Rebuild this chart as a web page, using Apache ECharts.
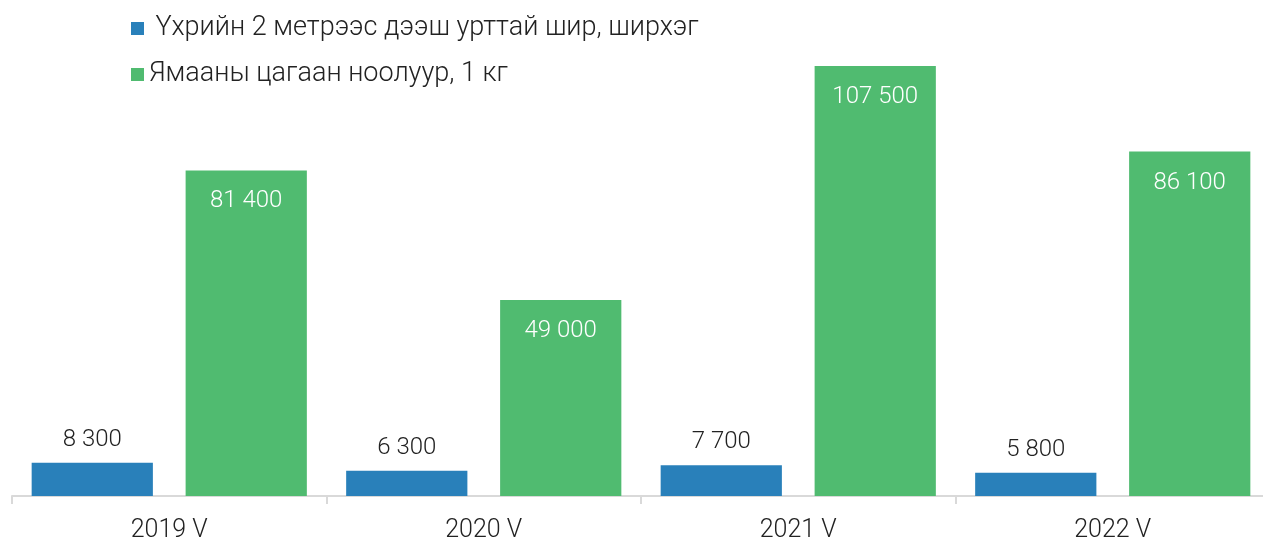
<!DOCTYPE html>
<html><head><meta charset="utf-8">
<script src="https://cdn.jsdelivr.net/npm/echarts@6/dist/echarts.min.js"></script>
<style>html,body{margin:0;padding:0;background:#fff;overflow:hidden;}#c{width:1270px;height:543px;}</style>
</head><body><div id="c"></div>
<script>
const categories = ['2019 V', '2020 V', '2021 V', '2022 V'];
const seriesNames = [' Үхрийн 2 метрээс дээш урттай шир, ширхэг', 'Ямааны цагаан ноолуур, 1 кг'];
const hides = [8300, 6300, 7700, 5800];
const cashmere = [81400, 49000, 107500, 86100];

const fmt = v => String(v).replace(/\B(?=(\d{3})+(?!\d))/g, ' ');
const FONT = 'Roboto';
const chart = echarts.init(document.getElementById('c'));
chart.setOption({
  animation: false,
  textStyle: { fontFamily: FONT },
  legend: {
    orient: 'vertical', left: 126, top: 10, itemGap: 19,
    itemWidth: 13, itemHeight: 13, icon: 'rect',
    textStyle: { fontSize: 27, color: '#222', fontWeight: 300, fontFamily: FONT },
    data: seriesNames
  },
  grid: { left: 12, right: 0, top: 16, bottom: 46, containLabel: false },
  xAxis: {
    type: 'category', data: categories,
    axisLine: { lineStyle: { color: '#d9d9d9', width: 2 } },
    axisTick: { show: true, length: 8, lineStyle: { color: '#d9d9d9', width: 2 } },
    axisLabel: { fontSize: 25, color: '#222', fontWeight: 300, margin: 22, fontFamily: FONT }
  },
  yAxis: { type: 'value', min: 0, max: 120000, show: false, splitLine: { show: false } },
  series: [
    { name: seriesNames[0], type: 'bar', data: hides, barGap: '27%', barCategoryGap: '12.5%',
      itemStyle: { color: '#2980ba' },
      label: { show: true, position: 'top', distance: 11, fontSize: 24, color: '#222', fontWeight: 300, fontFamily: FONT, formatter: p => fmt(p.value) } },
    { name: seriesNames[1], type: 'bar', data: cashmere,
      itemStyle: { color: '#50bb70' },
      label: { show: true, position: 'insideTop', distance: 19, fontSize: 24, color: '#fff', fontWeight: 300, fontFamily: FONT, formatter: p => fmt(p.value) } }
  ]
});
</script></body></html>
